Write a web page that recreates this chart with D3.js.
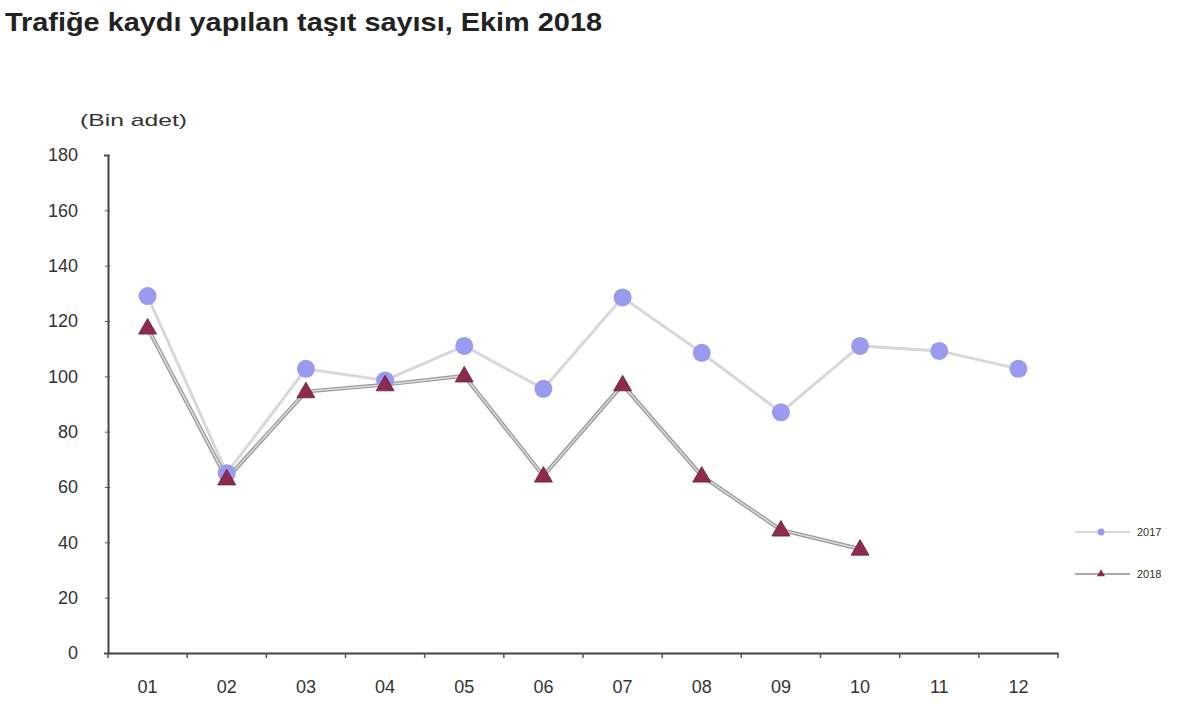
<!DOCTYPE html>
<html><head><meta charset="utf-8">
<script src="https://cdn.jsdelivr.net/npm/d3@7"></script>
<style>body{margin:0;background:#fff}svg{display:block}</style>
</head><body>
<svg id="c" width="1200" height="722"></svg>
<script>
const months = ["01","02","03","04","05","06","07","08","09","10","11","12"];
const values2017 = [129, 65, 102.7, 98.5, 111, 95.5, 128.5, 108.5, 87, 111, 109.2, 102.7];
const values2018 = [117.5, 63, 94.5, 97, 100.2, 64, 97, 64, 44.5, 37.6];
const yTicks = [0, 20, 40, 60, 80, 100, 120, 140, 160, 180];
const seriesNames = ["2017", "2018"];

(function () {
const svg = d3.select("#c");
const pLeft = 108, pRight = 1058, pTop = 155, pBottom = 653;
const ff = "Liberation Sans, Arial, sans-serif";

svg.append("text").attr("x", 5).attr("y", 31)
  .attr("font-family", ff).attr("font-weight", "bold")
  .attr("font-size", 25).attr("fill", "#222")
  .attr("textLength", 597).attr("lengthAdjust", "spacingAndGlyphs")
  .text("Trafiğe kaydı yapılan taşıt sayısı, Ekim 2018");

svg.append("text").attr("x", 80).attr("y", 126)
  .attr("font-family", ff).attr("font-size", 17).attr("fill", "#333")
  .attr("textLength", 107).attr("lengthAdjust", "spacingAndGlyphs").text("(Bin adet)");

const x = d3.scaleBand().domain(months).range([pLeft, pRight]).paddingInner(0).paddingOuter(0);
const y = d3.scaleLinear().domain([0, 180]).range([pBottom, pTop]);

const yAxis = svg.append("g").attr("transform", `translate(${pLeft},0)`)
  .call(d3.axisLeft(y).tickValues(yTicks).tickSize(4).tickPadding(26));
yAxis.select(".domain").attr("stroke", "#444").attr("stroke-width", 2);
yAxis.selectAll(".tick line").attr("stroke", "#555").attr("x2", 2).attr("x1", -3);
yAxis.selectAll(".tick text").attr("font-family", ff)
  .attr("font-size", 18).attr("fill", "#333");

const xAxis = svg.append("g").attr("transform", `translate(0,${pBottom})`)
  .call(d3.axisBottom(x).tickSize(0).tickPadding(27));
xAxis.select(".domain").attr("stroke", "#444").attr("stroke-width", 2);
xAxis.selectAll(".tick text").attr("font-family", ff)
  .attr("font-size", 18).attr("fill", "#333");
svg.append("g").selectAll("line").data(months.concat(["end"])).join("line")
  .attr("x1", (d, i) => pLeft + i * x.bandwidth()).attr("x2", (d, i) => pLeft + i * x.bandwidth())
  .attr("y1", pBottom).attr("y2", pBottom + 5).attr("stroke", "#555").attr("stroke-width", 1.5);

const cx = d => x(d) + x.bandwidth() / 2;
const line = d3.line().x((d, i) => cx(months[i])).y(d => y(d));

svg.append("path").datum(values2017).attr("d", line)
  .attr("fill", "none").attr("stroke", "#d8d8dc").attr("stroke-width", 3);
svg.append("path").datum(values2018).attr("d", line)
  .attr("fill", "none").attr("stroke", "#999").attr("stroke-width", 4);
svg.append("path").datum(values2018).attr("d", line)
  .attr("fill", "none").attr("stroke", "#dcdcdc").attr("stroke-width", 1.5);

svg.append("g").selectAll("circle").data(values2017).join("circle")
  .attr("cx", (d, i) => cx(months[i])).attr("cy", d => y(d)).attr("r", 9)
  .attr("fill", "#9a9aee");

const tri = d3.symbol().type(d3.symbolTriangle).size(140);
svg.append("g").selectAll("path").data(values2018).join("path")
  .attr("d", tri)
  .attr("transform", (d, i) => `translate(${cx(months[i])},${y(d) + 1})`)
  .attr("fill", "#8e2a50").attr("stroke", "#6a1e3a").attr("stroke-width", 0.8);

const lg = [{name: seriesNames[0], y: 532}, {name: seriesNames[1], y: 574}];
lg.forEach((l, i) => {
  svg.append("line").attr("x1", 1075).attr("x2", 1130).attr("y1", l.y).attr("y2", l.y)
    .attr("stroke", i === 0 ? "#d8d8dc" : "#aaa").attr("stroke-width", 2);
  if (i === 0) svg.append("circle").attr("cx", 1101).attr("cy", l.y).attr("r", 3.5).attr("fill", "#9a9aee");
  else svg.append("path").attr("d", d3.symbol().type(d3.symbolTriangle).size(28))
    .attr("transform", `translate(1101,${l.y})`).attr("fill", "#8e2a50");
  svg.append("text").attr("x", 1137).attr("y", l.y + 4)
    .attr("font-family", ff).attr("font-size", 11)
    .attr("fill", "#333").text(l.name);
});
})();
</script>
</body></html>
